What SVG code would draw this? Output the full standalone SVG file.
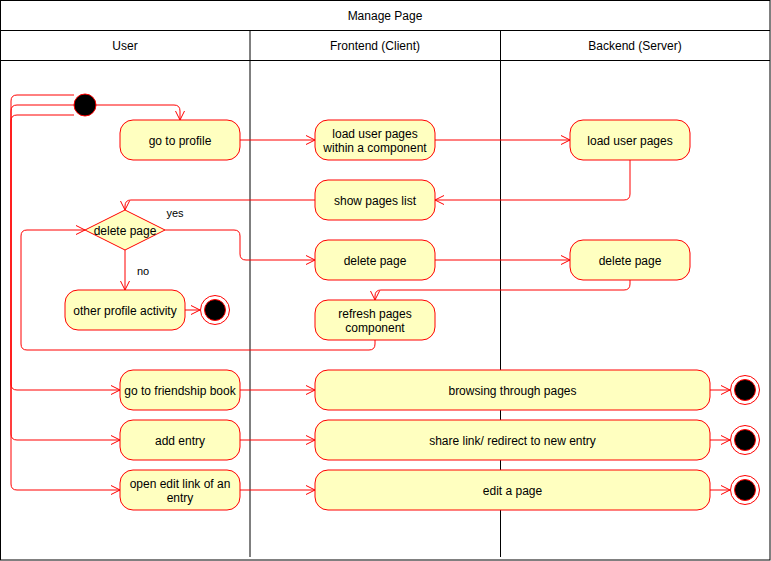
<svg xmlns="http://www.w3.org/2000/svg" width="771" height="561" viewBox="0 0 771 561">
<defs>
<style>
.lane{fill:none;stroke:#000;stroke-width:1}
.act{fill:#FFFFC0;stroke:#FF0000;stroke-width:1}
.t{font-family:"Liberation Sans",Arial,sans-serif;font-size:12px;fill:#000;text-anchor:middle;dominant-baseline:central}
.lbl{font-family:"Liberation Sans",Arial,sans-serif;font-size:11px;fill:#000;text-anchor:middle;dominant-baseline:central}
.e{fill:none;stroke:#FF0000;stroke-width:1;marker-end:url(#arr)}
</style>
<marker id="arr" markerUnits="userSpaceOnUse" markerWidth="12" markerHeight="12" viewBox="0 0 12 12" refX="10" refY="6" orient="auto">
<path d="M1,1.5 L10,6 L1,10.5" fill="none" stroke="#FF0000" stroke-width="1"/>
</marker>
</defs>
<rect width="771" height="561" fill="#fff"/>
<g id="pool">
<rect class="lane" x="0.5" y="0.5" width="769.5" height="559.5"/>
<text class="t" x="385" y="16">Manage Page</text>
<line class="lane" x1="0.5" y1="30.5" x2="770" y2="30.5"/>
<line class="lane" x1="0.5" y1="60.5" x2="770" y2="60.5"/>
<line class="lane" x1="250" y1="30.5" x2="250" y2="557" stroke-width="1.5"/>
<line class="lane" x1="500.5" y1="30.5" x2="500.5" y2="557"/>
<text class="t" x="125" y="46">User</text>
<text class="t" x="375" y="46">Frontend (Client)</text>
<text class="t" x="635" y="46">Backend (Server)</text>
</g>
<g id="connectors">
<path class="e" d="M96,105 L174,105 Q180,105 180,111 L180,120"/>
<path class="e" d="M74,95 L17,95 Q11,95 11,101 L11,384 Q11,390 17,390 L120,390"/>
<path class="e" d="M74,105 L17,105 Q11,105 11,111 L11,434 Q11,440 17,440 L120,440"/>
<path class="e" d="M74,115 L17,115 Q11,115 11,121 L11,484 Q11,490 17,490 L120,490"/>
<path class="e" d="M240,140 L315,140"/>
<path class="e" d="M435,140 L570,140"/>
<path class="e" d="M630,160 L630,194 Q630,200 624,200 L435,200"/>
<path class="e" d="M315,200 L131,200 Q125,200 125,206 L125,210"/>
<path class="e" d="M165,230 L234,230 Q240,230 240,236 L240,254 Q240,260 246,260 L315,260"/>
<path class="e" d="M125,250 L125,290"/>
<path class="e" d="M185,310 L200,310"/>
<path class="e" d="M435,260 L570,260"/>
<path class="e" d="M630,280 L630,284 Q630,290 624,290 L381,290 Q375,290 375,296 L375,300"/>
<path class="e" d="M375,340 L375,344 Q375,350 369,350 L27,350 Q21,350 21,344 L21,236 Q21,230 27,230 L85,230"/>
<path class="e" d="M240,390 L315,390"/>
<path class="e" d="M240,440 L315,440"/>
<path class="e" d="M240,490 L315,490"/>
<path class="e" d="M710,390 L730,390"/>
<path class="e" d="M710,440 L730,440"/>
<path class="e" d="M710,490 L730,490"/>
<text class="lbl" x="175" y="213">yes</text>
<text class="lbl" x="143" y="271">no</text>
</g>
<g id="start"><circle cx="85" cy="105" r="11" fill="#000" stroke="#FF0000"/></g>
<g id="goProfile"><rect class="act" x="120" y="120" width="120" height="40" rx="13"/><text class="t" x="180" y="141">go to profile</text></g>
<g id="loadFront"><rect class="act" x="315" y="120" width="120" height="40" rx="13"/><text class="t" x="375" y="134">load user pages</text><text class="t" x="375" y="148">within a component</text></g>
<g id="loadBack"><rect class="act" x="570" y="120" width="120" height="40" rx="13"/><text class="t" x="630" y="141">load user pages</text></g>
<g id="showList"><rect class="act" x="315" y="180" width="120" height="40" rx="13"/><text class="t" x="375" y="201">show pages list</text></g>
<g id="decision"><path class="act" d="M125,210 L165,230 L125,250 L85,230 Z"/><text class="t" x="125" y="231">delete page</text></g>
<g id="deleteFront"><rect class="act" x="315" y="240" width="120" height="40" rx="13"/><text class="t" x="375" y="261">delete page</text></g>
<g id="deleteBack"><rect class="act" x="570" y="240" width="120" height="40" rx="13"/><text class="t" x="630" y="261">delete page</text></g>
<g id="otherActivity"><rect class="act" x="65" y="290" width="120" height="40" rx="13"/><text class="t" x="125" y="311">other profile activity</text></g>
<g id="end1"><circle cx="215" cy="310" r="14.5" fill="#fff" stroke="#FF0000"/><circle cx="215" cy="310" r="10.5" fill="#000" stroke="#FF0000"/></g>
<g id="refresh"><rect class="act" x="315" y="300" width="120" height="40" rx="13"/><text class="t" x="375" y="314">refresh pages</text><text class="t" x="375" y="328">component</text></g>
<g id="friendBook"><rect class="act" x="120" y="370" width="120" height="40" rx="13"/><text class="t" x="180" y="391">go to friendship book</text></g>
<g id="addEntry"><rect class="act" x="120" y="420" width="120" height="40" rx="13"/><text class="t" x="180" y="441">add entry</text></g>
<g id="openEdit"><rect class="act" x="120" y="470" width="120" height="40" rx="13"/><text class="t" x="180" y="484">open edit link of an</text><text class="t" x="180" y="498">entry</text></g>
<g id="browsing"><rect class="act" x="315" y="370" width="395" height="40" rx="13"/><text class="t" x="512.5" y="391">browsing through pages</text></g>
<g id="share"><rect class="act" x="315" y="420" width="395" height="40" rx="13"/><text class="t" x="512.5" y="441">share link/ redirect to new entry</text></g>
<g id="editPage"><rect class="act" x="315" y="470" width="395" height="40" rx="13"/><text class="t" x="512.5" y="491">edit a page</text></g>
<g id="end2"><circle cx="745" cy="390" r="14.5" fill="#fff" stroke="#FF0000"/><circle cx="745" cy="390" r="10.5" fill="#000" stroke="#FF0000"/></g>
<g id="end3"><circle cx="745" cy="440" r="14.5" fill="#fff" stroke="#FF0000"/><circle cx="745" cy="440" r="10.5" fill="#000" stroke="#FF0000"/></g>
<g id="end4"><circle cx="745" cy="490" r="14.5" fill="#fff" stroke="#FF0000"/><circle cx="745" cy="490" r="10.5" fill="#000" stroke="#FF0000"/></g>
</svg>
